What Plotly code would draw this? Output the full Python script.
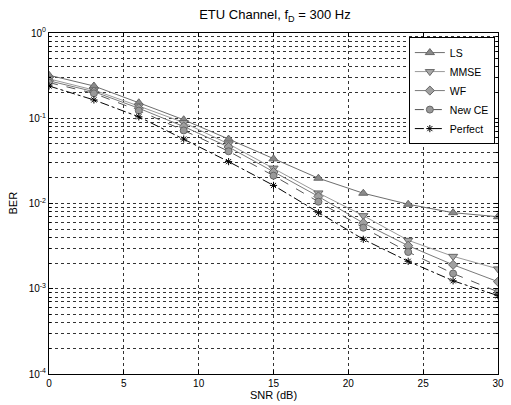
import plotly.graph_objects as go

snr = [0, 3, 6, 9, 12, 15, 18, 21, 24, 27, 30]
ber_ls = [0.32, 0.239, 0.152, 0.096, 0.057, 0.0334, 0.0198, 0.0132, 0.0098, 0.0078, 0.0070]
ber_mmse = [0.290, 0.214, 0.139, 0.089, 0.050, 0.026, 0.0133, 0.0072, 0.0037, 0.0024, 0.00171]
ber_wf = [0.275, 0.205, 0.131, 0.080, 0.046, 0.0234, 0.0121, 0.0059, 0.0032, 0.00191, 0.00121]
ber_newce = [0.262, 0.196, 0.123, 0.072, 0.041, 0.0212, 0.0105, 0.0052, 0.0027, 0.00151, 0.00092]
ber_perfect = [0.239, 0.164, 0.104, 0.057, 0.031, 0.0163, 0.0078, 0.0038, 0.0021, 0.00124, 0.00083]

x_ticks = [0, 5, 10, 15, 20, 25, 30]
y_major = [1e-4, 1e-3, 1e-2, 1e-1, 1]
y_labels = ["10<sup>-4</sup>", "10<sup>-3</sup>", "10<sup>-2</sup>", "10<sup>-1</sup>", "10<sup>0</sup>"]
y_minor = [m * 10.0 ** e for e in range(-4, 0) for m in range(2, 10)]

series = [
    ("LS", ber_ls, "#6e6e6e", "solid", "triangle-up", "#8a8a8a", 8),
    ("MMSE", ber_mmse, "#9a9a9a", "solid", "triangle-down", "#a8a8a8", 8),
    ("WF", ber_wf, "#7a7a7a", "solid", "diamond", "#a0a0a0", 7),
    ("New CE", ber_newce, "#555555", "dash", "circle", "#999999", 7),
    ("Perfect", ber_perfect, "#000000", "dashdot", "asterisk-open", "#000000", 6),
]

fig = go.Figure()
for name, y, lc, dash, sym, mc, ms in series:
    marker = dict(symbol=sym, size=ms, color=mc, line=dict(color="#666666" if name != "Perfect" else "#000000", width=1))
    fig.add_trace(go.Scatter(
        x=snr, y=y, name=name, mode="lines+markers",
        line=dict(color=lc, width=1, dash=dash),
        marker=marker,
    ))

font_family = "Liberation Sans, Arial, sans-serif"
fig.update_layout(
    width=511, height=405,
    margin=dict(l=49, r=13, t=33, b=31),
    paper_bgcolor="white", plot_bgcolor="white",
    font=dict(family=font_family, size=10, color="black"),
    title=dict(text="ETU Channel, f<sub>D</sub> = 300 Hz", x=0.538, xanchor="center", y=0.976, yanchor="top",
               pad=dict(t=0, b=0), font=dict(size=13, family=font_family, color="black")),
    showlegend=True,
    legend=dict(x=0.993, y=0.988, xanchor="right", yanchor="top", bgcolor="white",
                bordercolor="black", borderwidth=1, font=dict(size=10.5, family=font_family),
                tracegroupgap=0, itemwidth=30),
    annotations=[
        dict(text="SNR (dB)", x=0.5, y=0, xref="paper", yref="paper", xanchor="center", yanchor="top",
             yshift=-13, showarrow=False, font=dict(size=11)),
        dict(text="BER", x=0, y=0.5, xref="paper", yref="paper", xanchor="center", yanchor="middle",
             xshift=-37, textangle=-90, showarrow=False, font=dict(size=11)),
    ],
)
fig.update_xaxes(
    range=[0, 30], tickvals=x_ticks, showline=True, linecolor="black", linewidth=1, mirror="ticks",
    ticks="inside", ticklen=4, tickcolor="black", automargin=False, ticklabeloverflow="allow",
    showgrid=True, gridcolor="#333333", griddash="dot", gridwidth=1, zeroline=False,
)
fig.update_yaxes(
    type="log", range=[-4, 0], tickvals=y_major, ticktext=y_labels,
    showline=True, linecolor="black", linewidth=1, mirror="ticks",
    ticks="inside", ticklen=4, tickcolor="black", automargin=False, ticklabeloverflow="allow",
    showgrid=True, gridcolor="#333333", griddash="dot", gridwidth=1, zeroline=False,
    minor=dict(tickvals=y_minor, ticks="inside", ticklen=2, tickcolor="black",
               showgrid=True, gridcolor="#333333", griddash="dot", gridwidth=1),
)
fig.write_html("out.html", config={"displayModeBar": False},
               post_script="document.body.style.margin='0px';")
